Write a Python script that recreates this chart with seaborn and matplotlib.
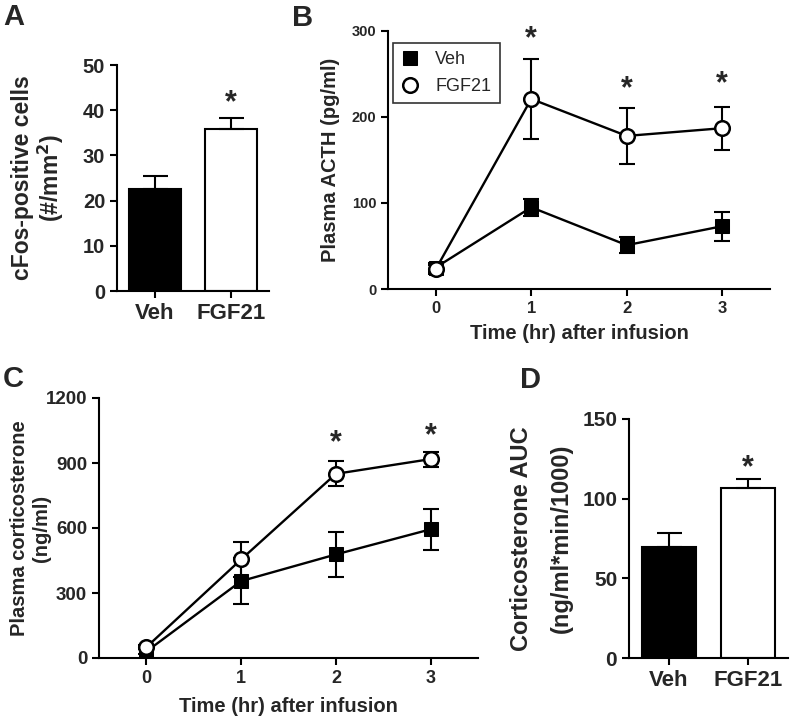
import numpy as np
import pandas as pd
import matplotlib
matplotlib.use('Agg')
import matplotlib.pyplot as plt
import seaborn as sns

sns.set_style('ticks')
plt.rcParams['font.family'] = ['Liberation Sans', 'DejaVu Sans']
plt.rcParams['font.weight'] = 'bold'
plt.rcParams['axes.linewidth'] = 1.5

# Panel A: cFos-positive cells
groups = ['Veh', 'FGF21']
cfos_mean = [22.6, 35.8]
cfos_sem = [2.8, 2.5]

# Panel B: plasma ACTH over time
hours = [0, 1, 2, 3]
acth_veh = [25, 95, 51, 73]
acth_veh_sem = [5, 10, 9, 17]
acth_fgf = [23, 221, 178, 187]
acth_fgf_sem = [5, 47, 33, 25]

# Panel C: plasma corticosterone over time
cort_veh = [30, 355, 478, 594]
cort_veh_sem = [10, 105, 104, 95]
cort_fgf = [50, 455, 850, 918]
cort_fgf_sem = [10, 80, 57, 35]

# Panel D: corticosterone AUC
auc_mean = [69.7, 106.8]
auc_sem = [8.8, 5.5]

W, H = 792, 719
fig = plt.figure(figsize=(W / 100, H / 100), dpi=100)


def px_axes(left, top, right, bottom):
    return fig.add_axes([left / W, 1 - bottom / H, (right - left) / W, (bottom - top) / H])


def style_axes(ax):
    sns.despine(ax=ax)
    ax.tick_params(width=1.5, length=5, color='black')
    for s in ['left', 'bottom']:
        ax.spines[s].set_color('black')


def bar_panel(ax, means, sems, ymax, yticks, ylabel, star_y, xfs, yfs, lfs, lsp, lpad):
    df = pd.DataFrame({'group': groups, 'value': means})
    sns.barplot(data=df, x='group', y='value', hue='group', palette=['black', 'white'],
                edgecolor='black', linewidth=1.5, width=0.68, errorbar=None,
                legend=False, ax=ax)
    for i, (m, s) in enumerate(zip(means, sems)):
        ax.errorbar(i, m, yerr=[[0], [s]], color='black', capsize=9, elinewidth=1.5,
                    capthick=1.5, zorder=1)
    ax.text(1, star_y, '*', ha='center', va='center', fontsize=22, fontweight='bold')
    ax.set_xlim(-0.5, 1.5)
    ax.set_ylim(0, ymax)
    ax.set_yticks(yticks)
    ax.set_xlabel('')
    ax.set_ylabel(ylabel, fontsize=lfs, fontweight='bold', labelpad=lpad, linespacing=lsp)
    ax.tick_params(axis='x', labelsize=xfs)
    ax.tick_params(axis='y', labelsize=yfs)
    style_axes(ax)


def line_panel(ax, veh, veh_sem, fgf, fgf_sem, ymax, yticks, ylabel, stars, legend,
               xfs, yfs, lfs, lpad, xpad):
    df = pd.DataFrame({'hour': hours * 2, 'value': veh + fgf,
                       'group': ['Veh'] * 4 + ['FGF21'] * 4})
    ax.errorbar(hours, veh, yerr=veh_sem, color='black', capsize=6, elinewidth=1.5,
                capthick=1.5, fmt='none', zorder=2)
    ax.errorbar(hours, fgf, yerr=fgf_sem, color='black', capsize=6, elinewidth=1.5,
                capthick=1.5, fmt='none', zorder=4)
    sns.lineplot(data=df[df.group == 'Veh'], x='hour', y='value', color='black',
                 marker='s', markersize=9.5, markerfacecolor='black', markeredgecolor='black',
                 linewidth=1.7, ax=ax, zorder=3, label='Veh')
    sns.lineplot(data=df[df.group == 'FGF21'], x='hour', y='value', color='black',
                 marker='o', markersize=10.5, markerfacecolor='white', markeredgecolor='black',
                 markeredgewidth=1.8, linewidth=1.7, ax=ax, zorder=5, label='FGF21')
    for x, y in stars:
        ax.text(x, y, '*', ha='center', va='center', fontsize=22, fontweight='bold')
    ax.set_xlim(-0.5, 3.5)
    ax.set_ylim(0, ymax)
    ax.set_xticks(hours)
    ax.set_yticks(yticks)
    ax.set_xlabel('Time (hr) after infusion', fontsize=14.5, fontweight='bold', labelpad=xpad)
    ax.set_ylabel(ylabel, fontsize=lfs, fontweight='bold', labelpad=lpad, linespacing=1.2)
    ax.tick_params(axis='x', labelsize=xfs)
    ax.tick_params(axis='y', labelsize=yfs)
    style_axes(ax)
    if legend:
        leg = ax.legend(loc='upper left', bbox_to_anchor=(0.013, 0.953), frameon=True,
                        fancybox=False, edgecolor='black', fontsize=13, handlelength=1.0,
                        handletextpad=0.9, borderpad=0.45, labelspacing=0.55,
                        borderaxespad=0)
        leg.get_frame().set_linewidth(1.2)
        for line in leg.get_lines():
            line.set_linestyle('none')
        for t in leg.get_texts():
            t.set_fontweight('normal')
    elif ax.get_legend():
        ax.get_legend().remove()


axA = px_axes(117, 65, 269, 291)
bar_panel(axA, cfos_mean, cfos_sem, 50, [0, 10, 20, 30, 40, 50],
          'cFos-positive cells\n(#/mm$\\mathbf{^2}$)', 41.5, 16, 14.5, 16.5, 1.1, 12)

axB = px_axes(388, 31, 770, 289)
line_panel(axB, acth_veh, acth_veh_sem, acth_fgf, acth_fgf_sem, 300, [0, 100, 200, 300],
           'Plasma ACTH (pg/ml)', [(1, 290), (2, 232), (3, 238)], True, 12, 10.5, 14.5, 8, 6)

axC = px_axes(99, 398, 478, 658)
line_panel(axC, cort_veh, cort_veh_sem, cort_fgf, cort_fgf_sem, 1200,
           [0, 300, 600, 900, 1200], 'Plasma corticosterone\n(ng/ml)',
           [(2, 992), (3, 1023)], False, 13, 13.5, 14.5, -4, 7)

axD = px_axes(629, 419, 788, 658)
bar_panel(axD, auc_mean, auc_sem, 150, [0, 50, 100, 150],
          'Corticosterone AUC\n(ng/ml*min/1000)', 119, 16, 15, 17, 1.9, 7)

for lbl, x, y in [('A', 3, 17), ('B', 292, 18), ('C', 3, 379), ('D', 520, 380)]:
    fig.text(x / W, 1 - y / H, lbl, fontsize=21, fontweight='bold', va='center', ha='left')

fig.savefig('out.png', dpi=100)
